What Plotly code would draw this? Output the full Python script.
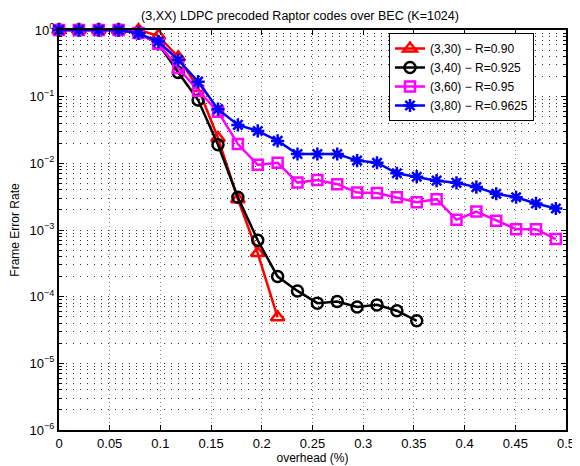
import plotly.graph_objects as go

overhead = [0.0, 0.0196, 0.0392, 0.0588, 0.0784, 0.098, 0.1176, 0.1372, 0.1568, 0.1764,
            0.196, 0.2156, 0.2352, 0.2548, 0.2744, 0.294, 0.3136, 0.3332, 0.3528, 0.3724,
            0.392, 0.4116, 0.4312, 0.4508, 0.4704, 0.49]

fer_330 = [1.0, 1.0, 1.0, 1.0, 1.0, 0.82, 0.39, 0.135, 0.024, 0.0029, 0.00045, 0.000049]
fer_340 = [1.0, 1.0, 1.0, 1.0, 0.9, 0.62, 0.23, 0.089, 0.019, 0.0031, 0.0007, 0.0002,
           0.000122, 0.00008, 0.0000845, 0.00007, 0.0000753, 0.0000615, 0.0000435]
fer_360 = [1.0, 1.0, 1.0, 1.0, 0.9, 0.62, 0.27, 0.123, 0.0596, 0.0195, 0.0095, 0.0102,
           0.00514, 0.00564, 0.00486, 0.00364, 0.0036, 0.0031, 0.00261, 0.0029, 0.00142,
           0.00189, 0.00138, 0.00103, 0.00103, 0.00073]
fer_380 = [1.0, 1.0, 1.0, 1.0, 0.89, 0.67, 0.355, 0.168, 0.065, 0.0377, 0.0306, 0.0217,
           0.0138, 0.0138, 0.0138, 0.011, 0.0102, 0.0071, 0.0063, 0.0055, 0.0051, 0.0044,
           0.0035, 0.0031, 0.0025, 0.0021]

names = ["(3,30) \u2212 R=0.90", "(3,40) \u2212 R=0.925", "(3,60) \u2212 R=0.95", "(3,80) \u2212 R=0.9625"]

y_tickvals = [1e-6, 1e-5, 1e-4, 1e-3, 1e-2, 1e-1, 1]
y_ticktext = ["10<sup>\u22126</sup>", "10<sup>\u22125</sup>", "10<sup>\u22124</sup>",
              "10<sup>\u22123</sup>", "10<sup>\u22122</sup>", "10<sup>\u22121</sup>", "10<sup>0</sup>"]
x_tickvals = [0, 0.05, 0.1, 0.15, 0.2, 0.25, 0.3, 0.35, 0.4, 0.45, 0.5]
x_ticktext = ["0", "0.05", "0.1", "0.15", "0.2", "0.25", "0.3", "0.35", "0.4", "0.45", "0.5"]

minor_y = [m * 10.0 ** k for k in range(-6, 0) for m in range(2, 10)]

FONT = "Liberation Sans, Arial, sans-serif"

# page body has an 8px default margin; figure is sized/positioned to compensate
OFF = 8
W, H = 580 - OFF, 466 - OFF

fig = go.Figure()
specs = [
    (fer_330, "red", "triangle-up-open", 12),
    (fer_340, "black", "circle-open", 11),
    (fer_360, "#ff00ff", "square-open", 10),
    (fer_380, "blue", "asterisk-open", 11),
]
for (vals, col, sym, size), nm in zip(specs, names):
    fig.add_trace(go.Scatter(
        x=overhead[:len(vals)], y=vals, name=nm, mode="lines+markers",
        line=dict(color=col, width=2.5),
        marker=dict(symbol=sym, size=size, color=col, line=dict(color=col, width=2.5)),
        cliponaxis=False,
    ))

fig.update_layout(
    width=W, height=H,
    margin=dict(l=59 - OFF, r=14, t=30 - OFF, b=36, autoexpand=False),
    paper_bgcolor="white", plot_bgcolor="white",
    font=dict(family=FONT, size=12, color="black"),
    title=dict(text="(3,XX) LDPC precoded Raptor codes over BEC (K=1024)",
               x=(300 - OFF) / W, xref="container", xanchor="center",
               y=1 - 7.5 / H, yref="container", yanchor="middle",
               font=dict(size=12.5, family=FONT)),
    showlegend=True,
    legend=dict(x=(389 - 59) / 507, y=(430 - 33) / 400, xanchor="left", yanchor="top",
                bgcolor="white", bordercolor="black", borderwidth=1,
                font=dict(size=12, family=FONT), tracegroupgap=0,
                itemwidth=30),
)
fig.update_xaxes(
    range=[0, 0.5], tickvals=x_tickvals, ticktext=x_ticktext, automargin=False,
    showline=True, linecolor="black", linewidth=2, mirror="ticks",
    ticks="inside", ticklen=5, tickcolor="black",
    showgrid=True, gridcolor="#888888", griddash="1px,3px", gridwidth=1,
    zeroline=False,
    title=dict(text="overhead (%)", standoff=3, font=dict(size=12, family=FONT)),
    tickfont=dict(size=13),
)
fig.update_yaxes(
    type="log", range=[-6, 0], tickvals=y_tickvals, ticktext=y_ticktext, automargin=False,
    showline=True, linecolor="black", linewidth=2, mirror="ticks",
    ticks="inside", ticklen=5, tickcolor="black",
    showgrid=True, gridcolor="#333333", griddash="1px,6px", gridwidth=1,
    zeroline=False,
    minor=dict(tickvals=minor_y, showgrid=True, gridcolor="#333333", griddash="1px,6px",
               gridwidth=1, ticks="inside", ticklen=3, tickcolor="black"),
    title=dict(text="Frame Error Rate", standoff=8, font=dict(size=12, family=FONT)),
    tickfont=dict(size=13),
)

fig.write_html("out.html")
